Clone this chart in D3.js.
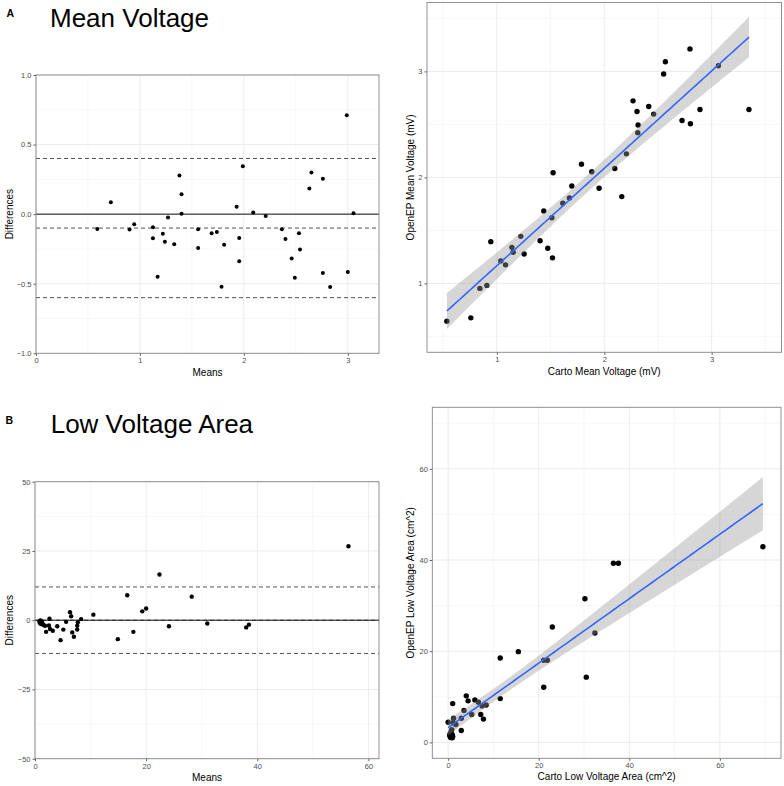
<!DOCTYPE html>
<html><head><meta charset="utf-8">
<script src="https://cdn.jsdelivr.net/npm/d3@7"></script>
<style>
body{margin:0;background:#fff;}
text{font-family:"Liberation Sans",Arial,Helvetica,sans-serif;}
</style></head>
<body>
<svg id="chart" width="784" height="786"></svg>
<script>
// ---------------- DATA ----------------
// Panel A left: Bland-Altman of mean voltage
const baMeanVoltageMeans = [0.59,0.72,0.90,0.945,1.125,1.125,1.17,1.22,1.24,1.27,1.33,1.38,1.40,1.40,1.56,1.56,1.69,1.74,1.785,1.81,1.93,1.955,1.955,1.99,2.09,2.21,2.365,2.40,2.46,2.49,2.53,2.54,2.63,2.65,2.76,2.76,2.83,2.99,3.00,3.055];
const baMeanVoltageDiffs = [-0.106,0.085,-0.111,-0.072,-0.094,-0.174,-0.449,-0.140,-0.198,-0.024,-0.217,0.278,0.143,0.002,-0.109,-0.244,-0.138,-0.128,-0.522,-0.220,0.053,-0.171,-0.338,0.345,0.012,-0.014,-0.109,-0.179,-0.319,-0.457,-0.138,-0.254,0.184,0.300,0.254,-0.423,-0.524,0.710,-0.415,0.007];
const baMeanVoltageLines = [-0.60, -0.10, 0.40];   // lower LoA, mean diff, upper LoA

// Panel A right: Carto vs OpenEP mean voltage
const cartoMeanVoltage  = [0.535,0.758,0.842,0.907,0.944,1.037,1.081,1.14,1.152,1.223,1.254,1.403,1.437,1.474,1.512,1.518,1.524,1.614,1.676,1.698,1.788,1.884,1.952,2.098,2.163,2.206,2.268,2.305,2.315,2.312,2.414,2.460,2.553,2.569,2.724,2.798,2.802,2.891,3.062,3.347];
const openepMeanVoltage = [0.644,0.675,0.953,0.981,1.394,1.2125,1.175,1.34,1.294,1.444,1.278,1.403,1.684,1.331,1.619,1.241,2.044,1.756,1.806,1.919,2.125,2.053,1.897,2.084,1.819,2.222,2.722,2.622,2.494,2.422,2.669,2.597,2.975,3.091,2.5375,3.2125,2.506,2.641,3.053,2.641];

// Panel B left: Bland-Altman of low voltage area
const baLowAreaMeans = [56.4,22.4,16.6,28.2,19.3,20.0,10.5,14.9,17.7,24.1,31.0,38.0,38.5,0.8,0.9,1.1,1.3,1.5,1.8,2.0,2.6,2.5,2.7,3.2,4.0,4.6,5.1,5.6,6.3,6.5,6.7,7.0,7.6,7.6,7.7,8.3,0.95,1.05,0.95,1.15];
const baLowAreaDiffs = [26.7,16.5,9.0,8.5,3.2,4.2,2.0,-6.85,-4.2,-2.2,-1.2,-2.6,-1.6,-0.5,-1.1,-1.4,-0.8,-1.7,-2.0,-4.2,0.5,-1.9,-3.2,-3.8,-2.2,-7.2,-3.4,-0.6,2.9,1.4,-4.4,-6.0,-3.4,-2.0,-0.7,0.4,-0.5,-0.9,-0.1,-0.3];
const baLowAreaLines = [-12.0, -0.03, 12.0];

// Panel B right: Carto vs OpenEP low voltage area
const cartoLowArea  = [69.5,36.5,37.6,30.2,23.0,32.4,15.5,11.5,21.1,21.9,30.5,21.1,11.5,4.0,4.4,5.9,6.7,7.5,8.4,1.0,3.5,7.2,5.2,7.8,2.9,1.2,0.0,1.7,2.9,1.1,0.8,0.65,0.9,0.4,0.35,0.55,0.7,0.6,0.9,1.0];
const openepLowArea = [42.9,39.3,39.3,31.5,25.3,24.0,19.9,18.5,18.0,18.0,14.3,12.1,9.6,10.2,9.1,9.3,8.8,8.0,8.2,8.5,7.0,6.1,6.1,5.1,5.3,5.3,4.4,3.9,2.6,4.3,2.8,2.35,1.7,1.8,1.45,1.05,1.2,1.5,1.0,1.3];

// tick values
const ticksA1x = [0,1,2,3], ticksA1y = [-1,-0.5,0,0.5,1];
const ticksA2 = [1,2,3];
const ticksB1x = [0,20,40,60], ticksB1y = [-50,-25,0,25,50];
const ticksB2 = [0,20,40,60];
const T_CRIT_38 = 2.024; // t quantile (0.975, df = 38) for 95% band of lm fit

// ---------------- DRAWING ----------------
const svg = d3.select("#chart");
const FONT_TICK = 7.5, FONT_TITLE = 10;

function panel(cfg){
  const g = svg.append("g");
  const x = d3.scaleLinear().domain(cfg.xd).range([cfg.l, cfg.r]);
  const y = d3.scaleLinear().domain(cfg.yd).range([cfg.b, cfg.t]);
  // minor grid
  g.selectAll(".mgx").data(cfg.minorX).join("line")
    .attr("x1", d=>x(d)).attr("x2", d=>x(d)).attr("y1", cfg.t).attr("y2", cfg.b)
    .attr("stroke", "#f2f2f2").attr("stroke-width", 0.6);
  g.selectAll(".mgy").data(cfg.minorY).join("line")
    .attr("y1", d=>y(d)).attr("y2", d=>y(d)).attr("x1", cfg.l).attr("x2", cfg.r)
    .attr("stroke", "#f2f2f2").attr("stroke-width", 0.6);
  // major grid
  g.append("g").selectAll("line").data(cfg.tx).join("line")
    .attr("x1", d=>x(d)).attr("x2", d=>x(d)).attr("y1", cfg.t).attr("y2", cfg.b)
    .attr("stroke", "#ebebeb").attr("stroke-width", 1);
  g.append("g").selectAll("line").data(cfg.ty).join("line")
    .attr("y1", d=>y(d)).attr("y2", d=>y(d)).attr("x1", cfg.l).attr("x2", cfg.r)
    .attr("stroke", "#ebebeb").attr("stroke-width", 1);
  // axes
  const ax = g.append("g").attr("transform", `translate(0,${cfg.b})`)
    .call(d3.axisBottom(x).tickValues(cfg.tx).tickSize(2.5).tickPadding(2).tickFormat(cfg.fx));
  const ay = g.append("g").attr("transform", `translate(${cfg.l},0)`)
    .call(d3.axisLeft(y).tickValues(cfg.ty).tickSize(2.5).tickPadding(2).tickFormat(cfg.fy));
  [ax, ay].forEach(a=>{
    a.select(".domain").remove();
    a.selectAll(".tick line").attr("stroke", "#333").attr("stroke-width", 0.8);
    a.selectAll(".tick text").attr("fill", "#4d4d4d").attr("font-size", FONT_TICK)
      .attr("font-family", '"Liberation Sans",Arial,Helvetica,sans-serif');
  });
  // titles
  g.append("text").attr("x", (cfg.l+cfg.r)/2).attr("y", cfg.xtY).attr("text-anchor","middle")
    .attr("font-size", FONT_TITLE).attr("fill","#000").text(cfg.xt);
  g.append("text").attr("transform", `translate(${cfg.ytX},${(cfg.t+cfg.b)/2}) rotate(-90)`)
    .attr("text-anchor","middle").attr("font-size", FONT_TITLE).attr("fill","#000").text(cfg.yt);
  return {g, x, y};
}

function border(cfg){
  svg.append("rect").attr("x", cfg.l).attr("y", cfg.t).attr("width", cfg.r-cfg.l).attr("height", cfg.b-cfg.t)
    .attr("fill","none").attr("stroke","#858585").attr("stroke-width",0.9);
}

function blandAltman(cfg, means, diffs, lines){
  const {g, x, y} = panel(cfg);
  const clip = "clip" + Math.round(cfg.l) + Math.round(cfg.t);
  svg.append("clipPath").attr("id", clip).append("rect")
    .attr("x", cfg.l).attr("y", cfg.t).attr("width", cfg.r-cfg.l).attr("height", cfg.b-cfg.t);
  const lg = g.append("g").attr("clip-path", `url(#${clip})`);
  lg.selectAll(".dash").data(lines).join("line")
    .attr("x1", cfg.l).attr("x2", cfg.r).attr("y1", d=>y(d)).attr("y2", d=>y(d))
    .attr("stroke", "#555").attr("stroke-width", 1).attr("stroke-dasharray", "4,3");
  lg.append("line").attr("x1", cfg.l).attr("x2", cfg.r).attr("y1", y(0)).attr("y2", y(0))
    .attr("stroke", "#111").attr("stroke-width", 1);
  lg.selectAll("circle").data(d3.range(means.length)).join("circle")
    .attr("cx", i=>x(means[i])).attr("cy", i=>y(diffs[i])).attr("r", cfg.pr).attr("fill", "#000");
  border(cfg);
}

function scatterFit(cfg, xs, ys){
  const {g, x, y} = panel(cfg);
  g.selectAll("circle").data(d3.range(xs.length)).join("circle")
    .attr("cx", i=>x(xs[i])).attr("cy", i=>y(ys[i])).attr("r", cfg.pr).attr("fill", "#000");
  // linear model fit + 95% confidence band (as geom_smooth(method="lm"))
  const n = xs.length, mx = d3.mean(xs), my = d3.mean(ys);
  let sxx = 0, sxy = 0;
  for (let i=0;i<n;i++){ sxx += (xs[i]-mx)**2; sxy += (xs[i]-mx)*(ys[i]-my); }
  const b = sxy/sxx, a = my - b*mx;
  let sse = 0; for (let i=0;i<n;i++){ sse += (ys[i]-a-b*xs[i])**2; }
  const s = Math.sqrt(sse/(n-2));
  const [x0, x1] = d3.extent(xs);
  const grid = d3.range(0, 81).map(k => x0 + (x1-x0)*k/80);
  const band = grid.map(v => {
    const se = s*Math.sqrt(1/n + (v-mx)**2/sxx), f = a + b*v;
    return {v, f, lo: f - T_CRIT_38*se, hi: f + T_CRIT_38*se};
  });
  g.append("path").datum(band)
    .attr("d", d3.area().x(d=>x(d.v)).y0(d=>y(d.lo)).y1(d=>y(d.hi)))
    .attr("fill", "#999").attr("fill-opacity", 0.4);
  g.append("path").datum(band)
    .attr("d", d3.line().x(d=>x(d.v)).y(d=>y(d.f)))
    .attr("fill", "none").attr("stroke", "#3366FF").attr("stroke-width", 1.6);
  border(cfg);
}

const fmt1 = d3.format(".1f"), fmt0 = d3.format("d");

// Panel A left
blandAltman({l:36, r:379, t:75, b:353.3, xd:[0,3.3], yd:[-1,1],
  tx:ticksA1x, ty:ticksA1y, minorX:[0.5,1.5,2.5], minorY:[-0.75,-0.25,0.25,0.75],
  fx:fmt0, fy:fmt1, xt:"Means", yt:"Differences", xtY:376, ytX:12.5, pr:2},
  baMeanVoltageMeans, baMeanVoltageDiffs, baMeanVoltageLines);

// Panel A right
scatterFit({l:427, r:781.5, t:2.5, b:352.3, xd:[0.35,3.65], yd:[0.35,3.65],
  tx:ticksA2, ty:ticksA2, minorX:[0.5,1.5,2.5,3.5], minorY:[0.5,1.5,2.5,3.5],
  fx:fmt0, fy:fmt0, xt:"Carto Mean Voltage (mV)", yt:"OpenEP Mean Voltage (mV)", xtY:375, ytX:414, pr:2.7},
  cartoMeanVoltage, openepMeanVoltage);

// Panel B left
blandAltman({l:35, r:379, t:481.7, b:758.7, xd:[0,61.9], yd:[-50,50],
  tx:ticksB1x, ty:ticksB1y, minorX:[10,30,50], minorY:[-37.5,-12.5,12.5,37.5],
  fx:fmt0, fy:fmt0, xt:"Means", yt:"Differences", xtY:781, ytX:12.5, pr:2.2},
  baLowAreaMeans, baLowAreaDiffs, baLowAreaLines);

// Panel B right
scatterFit({l:432.3, r:781, t:407.3, b:758.3, xd:[-3.5,73.5], yd:[-3.5,73.5],
  tx:ticksB2, ty:ticksB2, minorX:[10,30,50,70], minorY:[10,30,50,70],
  fx:fmt0, fy:fmt0, xt:"Carto Low Voltage Area (cm^2)", yt:"OpenEP Low Voltage Area (cm^2)", xtY:780, ytX:414, pr:2.7},
  cartoLowArea, openepLowArea);

// Panel tags and headings
svg.append("text").attr("x", 6.5).attr("y", 16.5).attr("font-size", 10.5).attr("font-weight","bold").text("A");
svg.append("text").attr("x", 50).attr("y", 26.7).attr("font-size", 26).text("Mean Voltage");
svg.append("text").attr("x", 5.5).attr("y", 423.5).attr("font-size", 10.5).attr("font-weight","bold").text("B");
svg.append("text").attr("x", 50.7).attr("y", 432.7).attr("font-size", 26).text("Low Voltage Area");
</script>
</body></html>
